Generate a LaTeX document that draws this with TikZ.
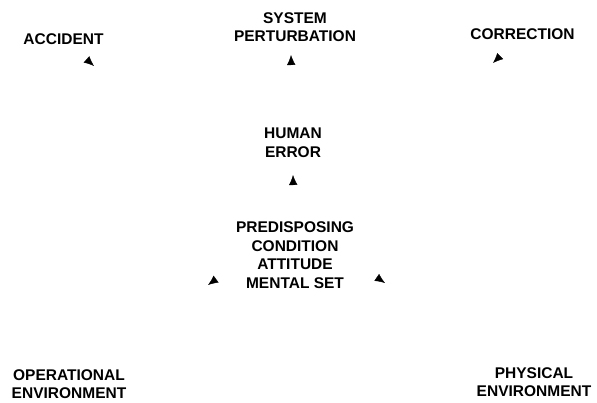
\documentclass[tikz,border=0pt]{standalone}
\usepackage{fontspec}
\setmainfont{Liberation Sans}
\usetikzlibrary{arrows.meta}
\pgfdeclarelayer{background}
\pgfsetlayers{background,main}
\begin{document}
\begin{tikzpicture}[x=1pt,y=-1pt,
  lbl/.style={font=\bfseries\fontsize{15.5}{18.5}\selectfont, align=center, inner sep=0pt},
  tipline/.style={white, line width=0.4pt, -{Latex[black,length=10pt,width=8.5pt]}}]
\useasboundingbox (0,0) rectangle (597,402);
\node[lbl] (acc) at (63.5,39) {ACCIDENT};
\node[lbl] (sp) at (295,27) {SYSTEM\\PERTURBATION};
\node[lbl] (cor) at (522.5,34.5) {CORRECTION};
\node[lbl] (he) at (293,142.5) {HUMAN\\ERROR};
\node[lbl] (pc) at (295,255) {PREDISPOSING\\CONDITION\\ATTITUDE\\MENTAL SET};
\node[lbl] (op) at (69,384) {OPERATIONAL\\ENVIRONMENT};
\node[lbl] (ph) at (534,382) {PHYSICAL\\ENVIRONMENT};
\coordinate (tsp) at (291,55);
\coordinate (the) at (293,175);
\coordinate (tacc) at (94,66);
\coordinate (tcor) at (493,63);
\coordinate (tl) at (208,285);
\coordinate (tr) at (385,283);
\begin{pgfonlayer}{background}
\fill[white] (0,0) rectangle (597,402);
\draw[tipline] (he) -- (tsp);
\draw[tipline] (pc) -- (the);
\draw[tipline] (acc) -- (tacc);
\draw[tipline] (cor) -- (tcor);
\draw[tipline] (pc.north) -- (tl);
\draw[tipline] (pc.north) -- (tr);
\end{pgfonlayer}
\end{tikzpicture}
\end{document}
